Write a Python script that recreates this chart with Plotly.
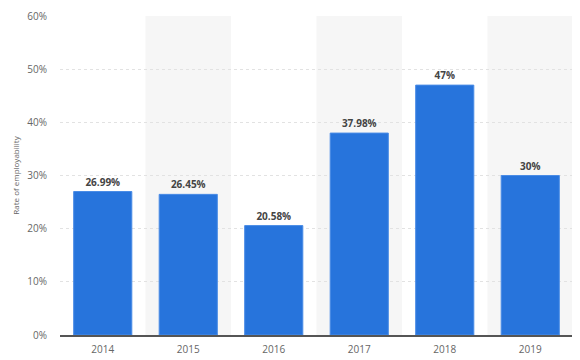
import plotly.graph_objects as go

years = ["2014", "2015", "2016", "2017", "2018", "2019"]
rates = [26.99, 26.45, 20.58, 37.98, 47, 30]
labels = ["26.99%", "26.45%", "20.58%", "37.98%", "47%", "30%"]
y_ticks = [0, 10, 20, 30, 40, 50, 60]
y_tick_text = ["0%", "10%", "20%", "30%", "40%", "50%", "60%"]

fig = go.Figure()
fig.add_trace(go.Bar(
    x=years, y=rates, text=["<b>" + t + "</b>" for t in labels], textposition="outside",
    textfont=dict(family="Open Sans, DejaVu Sans", size=10, color="#444"),
    marker=dict(color="#2774dc", line=dict(color="#4a8ce6", width=1)),
    cliponaxis=False, width=0.68,
))

# alternating shaded category bands
for i in range(len(years)):
    if i % 2 == 1:
        fig.add_shape(type="rect", xref="x", yref="paper",
                      x0=i - 0.5, x1=i + 0.5, y0=0, y1=1,
                      fillcolor="#f6f6f6", line=dict(width=0), layer="below")

fig.update_layout(
    width=572, height=352,
    margin=dict(l=52, r=7, t=8, b=25, autoexpand=False),
    paper_bgcolor="white", plot_bgcolor="white",
    showlegend=False,
    font=dict(family="Open Sans, DejaVu Sans", color="#666"),
    xaxis=dict(
        type="category", range=[-0.5, 5.5],
        tickfont=dict(size=10, color="#666"),
        showgrid=False, showline=True, linecolor="#555", linewidth=1.5,
        ticks="outside", ticklen=4, tickcolor="rgba(0,0,0,0)",
        automargin=False,
    ),
    yaxis=dict(
        range=[0, 60], tickmode="array", tickvals=y_ticks, ticktext=y_tick_text,
        tickfont=dict(size=10, color="#666"),
        showgrid=True, gridcolor="#e2e2e2", griddash="dot", gridwidth=1,
        zeroline=False, automargin=False,
        ticks="outside", ticklen=10, tickcolor="rgba(0,0,0,0)",
        title=dict(text="Rate of employability", font=dict(size=8, color="#666"), standoff=6),
    ),
)

fig.write_html("out.html")
